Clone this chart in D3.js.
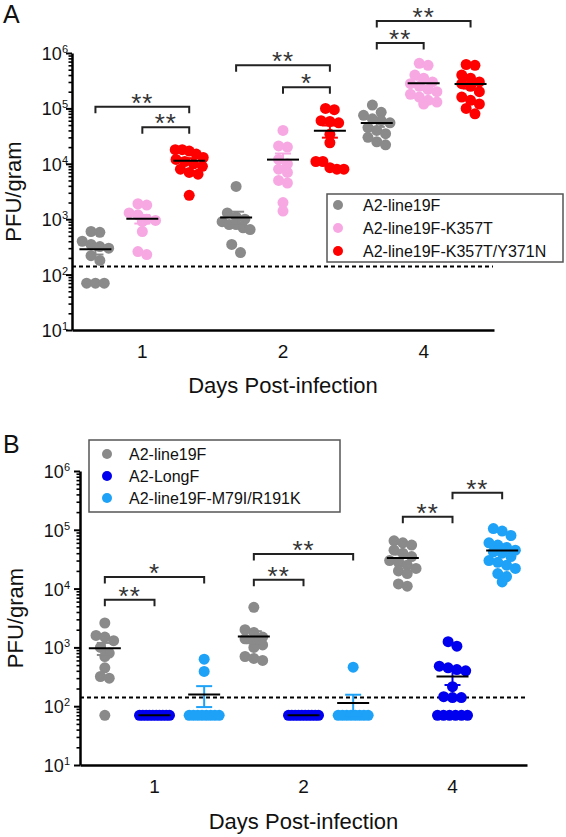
<!DOCTYPE html>
<html><head><meta charset="utf-8">
<script src="https://cdn.jsdelivr.net/npm/d3@7"></script>
<style>body{margin:0;background:#fff} svg{display:block} text{font-family:"Liberation Sans",Arial,sans-serif}</style>
</head><body><svg id="c" width="566" height="837"></svg>
<script>
// ---------------- DATA ----------------
const days = ["1", "2", "4"];
const yTickExponents = [1, 2, 3, 4, 5, 6];
const lodValue = 140;

const seriesA = ["A2-line19F", "A2-line19F-K357T", "A2-line19F-K357T/Y371N"];
const seriesB = ["A2-line19F", "A2-LongF", "A2-line19F-M79I/R191K"];

// Panel A values per day [day1, day2, day4] (PFU/gram)
const A_line19F = [
  [600, 580, 400, 350, 320, 300, 220, 180, 70, 70, 70],
  [3900, 1300, 1100, 1000, 900, 800, 800, 700, 650, 350, 250],
  [115000, 85000, 75000, 65000, 60000, 55000, 45000, 40000, 35000, 30000, 25000, 22000]
];
const A_K357T = [
  [1900, 1800, 1300, 1200, 1000, 950, 900, 600, 260, 230],
  [40000, 21000, 20000, 12000, 10000, 8000, 7000, 5000, 4500, 2000, 1400],
  [650000, 600000, 400000, 350000, 300000, 280000, 250000, 220000, 200000, 180000, 160000, 140000, 130000, 120000]
];
const A_K357T_Y371N = [
  [18000, 18000, 17000, 15000, 13000, 12000, 11000, 10000, 9000, 8000, 7000, 6500, 2700],
  [100000, 95000, 60000, 58000, 55000, 34000, 24000, 11000, 11000, 8500, 8000, 8000],
  [620000, 600000, 400000, 350000, 300000, 280000, 250000, 200000, 160000, 140000, 120000, 100000, 80000]
];

// Panel B values per day [day1, day2, day4]
const B_line19F = [
  [2600, 1600, 1500, 1300, 1000, 800, 700, 450, 320, 300, 70],
  [4800, 2000, 1800, 1500, 1400, 1300, 1100, 1000, 700, 650, 600],
  [65000, 60000, 55000, 45000, 40000, 35000, 30000, 28000, 25000, 22000, 20000, 18000, 12000, 11000]
];
const B_LongF = [
  [70, 70, 70, 70, 70, 70, 70, 70, 70, 70],
  [70, 70, 70, 70, 70, 70, 70, 70, 70, 70],
  [1250, 1050, 480, 450, 420, 400, 215, 145, 140, 140, 70, 70, 70, 70, 70, 70]
];
const B_M79I_R191K = [
  [630, 390, 70, 70, 70, 70, 70, 70, 70, 70],
  [460, 70, 70, 70, 70, 70, 70, 70, 70],
  [105000, 95000, 80000, 60000, 55000, 50000, 45000, 42000, 40000, 35000, 30000, 28000, 25000, 22000, 18000, 16000, 13000]
];

// significance brackets: day, from series index, to series index, level (PFU/gram), label
const bracketsA = [
  {day: "1", from: 0, to: 2, level: 107000, label: "**"},
  {day: "1", from: 1, to: 2, level: 45700, label: "**"},
  {day: "2", from: 0, to: 2, level: 603000, label: "**"},
  {day: "2", from: 1, to: 2, level: 240000, label: "*"},
  {day: "4", from: 0, to: 2, level: 3800000, label: "**"},
  {day: "4", from: 0, to: 1, level: 1510000, label: "**"}
];
const bracketsB = [
  {day: "1", from: 0, to: 2, level: 15800, label: "*"},
  {day: "1", from: 0, to: 1, level: 6460, label: "**"},
  {day: "2", from: 0, to: 2, level: 38900, label: "**"},
  {day: "2", from: 0, to: 1, level: 14100, label: "**"},
  {day: "4", from: 0, to: 1, level: 166000, label: "**"},
  {day: "4", from: 1, to: 2, level: 427000, label: "**"}
];

// ---------------- STYLE / LAYOUT ----------------
const colorsA = ["#8a8a8a", "#f7a8e3", "#ff0000"];
const colorsB = ["#8a8a8a", "#0000ee", "#1ea2f8"];

const svg = d3.select("#c");

function swarm(values, cx, y, r, maxHalf) {
  const pts = values.map(v => ({v, py: y(v)})).sort((a, b) => a.py - b.py);
  const bins = [];
  pts.forEach(p => {
    const last = bins[bins.length - 1];
    if (last && p.py - last[0].py < r * 1.5) last.push(p); else bins.push([p]);
  });
  bins.forEach(b => {
    const k = b.length;
    const sp = k > 1 ? Math.min(2 * r * 0.8, 2 * maxHalf / (k - 1)) : 0;
    b.forEach((p, i) => { p.px = cx + (i - (k - 1) / 2) * sp; });
  });
  return pts;
}

function drawPanel(cfg) {
  const g = svg.append("g");
  const keys = [];
  days.forEach(d => cfg.series.forEach((s, i) => keys.push(d + "|" + i)));
  const x = d3.scalePoint().domain(keys).range([cfg.x0, cfg.x1]).padding(0.5);
  const xDay = d3.scaleBand().domain(days).range([cfg.x0, cfg.x1]);
  const y = d3.scaleLog().domain([10, 1e6]).range([cfg.yBottom, cfg.yTop]);

  // panel letter
  g.append("text").attr("x", cfg.letterX).attr("y", cfg.letterY)
    .attr("font-size", 25).attr("fill", "#111").text(cfg.letter);

  // minor ticks
  const minors = [];
  yTickExponents.slice(0, -1).forEach(e => { for (let m = 2; m <= 9; m++) minors.push(m * Math.pow(10, e)); });
  const minorAxis = g.append("g").attr("transform", `translate(${cfg.x0},0)`)
    .call(d3.axisLeft(y).tickValues(minors).tickSize(3.5).tickFormat("").tickSizeOuter(0));
  minorAxis.select(".domain").remove();
  minorAxis.selectAll("line").attr("stroke", "#000").attr("stroke-width", 1.6);

  const majorAxis = g.append("g").attr("transform", `translate(${cfg.x0},0)`)
    .call(d3.axisLeft(y).tickValues(yTickExponents.map(e => Math.pow(10, e))).tickSize(6).tickFormat("").tickSizeOuter(0));
  majorAxis.select(".domain").attr("stroke", "#000").attr("stroke-width", 2.5);
  majorAxis.selectAll("line").attr("stroke", "#000").attr("stroke-width", 2);

  // major labels 10^n
  yTickExponents.forEach(e => {
    const t = g.append("text").attr("x", cfg.x0 - cfg.labelGap).attr("y", y(Math.pow(10, e)) + 7)
      .attr("text-anchor", "end").attr("font-size", 18).attr("fill", "#111");
    t.append("tspan").text("10");
    t.append("tspan").attr("font-size", 11).attr("dy", -7).text(e);
  });

  // y title
  g.append("text").attr("transform", `translate(${cfg.yTitleX},${(cfg.yTop + cfg.yBottom) / 2}) rotate(-90)`)
    .attr("text-anchor", "middle").attr("font-size", 22).attr("fill", "#111").text("PFU/gram");

  // x axis
  const xa = g.append("g").attr("transform", `translate(0,${cfg.yBottom})`)
    .call(d3.axisBottom(xDay).tickSize(0).tickPadding(14.5).tickSizeOuter(0));
  xa.select(".domain").attr("stroke", "#000").attr("stroke-width", 2.5);
  xa.selectAll("text").attr("font-size", 19).attr("fill", "#111").attr("font-family", "Liberation Sans, Arial, sans-serif");

  g.append("text").attr("x", (cfg.x0 + cfg.x1) / 2).attr("y", cfg.xTitleY)
    .attr("text-anchor", "middle").attr("font-size", 22).attr("fill", "#111").text("Days Post-infection");

  // dashed LOD line
  g.append("line").attr("x1", cfg.x0).attr("x2", cfg.x1 - 1).attr("y1", y(lodValue)).attr("y2", y(lodValue))
    .attr("stroke", "#000").attr("stroke-width", 2).attr("stroke-dasharray", "4,3");

  // points + mean + SEM
  const r = 5.5;
  days.forEach((d, di) => {
    cfg.values.forEach((arr, si) => {
      const vals = arr[di];
      const cx = x(d + "|" + si);
      const pts = swarm(vals, cx, y, r, cfg.maxHalf);
      g.append("g").selectAll("circle").data(pts).join("circle")
        .attr("cx", p => p.px).attr("cy", p => p.py).attr("r", r).attr("fill", cfg.colors[si]);
      const mean = d3.mean(vals);
      const sem = (d3.deviation(vals) || 0) / Math.sqrt(vals.length);
      const eg = g.append("g").attr("stroke", cfg.colors[si]).attr("stroke-width", 2);
      if (sem > 0) {
        eg.append("line").attr("x1", cx).attr("x2", cx).attr("y1", y(mean + sem)).attr("y2", y(mean - sem));
        [mean + sem, mean - sem].forEach(v => eg.append("line").attr("x1", cx - 8).attr("x2", cx + 8).attr("y1", y(v)).attr("y2", y(v)));
      }
      g.append("line").attr("x1", cx - 16).attr("x2", cx + 16).attr("y1", y(mean)).attr("y2", y(mean))
        .attr("stroke", "#000").attr("stroke-width", 2);
    });
  });

  // brackets
  cfg.brackets.forEach(b => {
    const xa1 = x(b.day + "|" + b.from), xb1 = x(b.day + "|" + b.to);
    const yy = y(b.level);
    g.append("path").attr("d", `M${xa1},${yy + 6.5}V${yy}H${xb1}V${yy + 6.5}`)
      .attr("fill", "none").attr("stroke", "#222").attr("stroke-width", 2);
    g.append("text").attr("x", (xa1 + xb1) / 2).attr("y", yy + 5)
      .attr("text-anchor", "middle").attr("font-size", 26).attr("letter-spacing", 1).attr("fill", "#333").text(b.label);
  });

  // legend
  const L = cfg.legend;
  const lg = g.append("g");
  lg.append("rect").attr("x", L.x).attr("y", L.y).attr("width", L.w).attr("height", L.h)
    .attr("fill", "#fff").attr("stroke", "#555").attr("stroke-width", 1.5);
  cfg.series.forEach((s, i) => {
    const ry = L.y + L.first + i * L.step;
    lg.append("circle").attr("cx", L.x + L.cx).attr("cy", ry).attr("r", 5).attr("fill", cfg.colors[i]);
    lg.append("text").attr("x", L.x + L.tx).attr("y", ry + 6).attr("font-size", 16).attr("fill", "#111").text(s);
  });
}

drawPanel({
  letter: "A", letterX: 3, letterY: 23,
  series: seriesA, values: [A_line19F, A_K357T, A_K357T_Y371N], colors: colorsA,
  x0: 72, x1: 494, yTop: 53, yBottom: 330, labelGap: 4, yTitleX: 21, xTitleY: 393,
  maxHalf: 14, brackets: bracketsA,
  legend: {x: 327, y: 194, w: 236, h: 68, first: 11, step: 23, cx: 11, tx: 36}
});

drawPanel({
  letter: "B", letterX: 3, letterY: 453,
  series: seriesB, values: [B_line19F, B_LongF, B_M79I_R191K], colors: colorsB,
  x0: 80, x1: 527, yTop: 471, yBottom: 765, labelGap: 10, yTitleX: 23, xTitleY: 829,
  maxHalf: 15, brackets: bracketsB,
  legend: {x: 89, y: 440, w: 251, h: 72, first: 14, step: 22, cx: 18, tx: 40}
});
</script></body></html>
